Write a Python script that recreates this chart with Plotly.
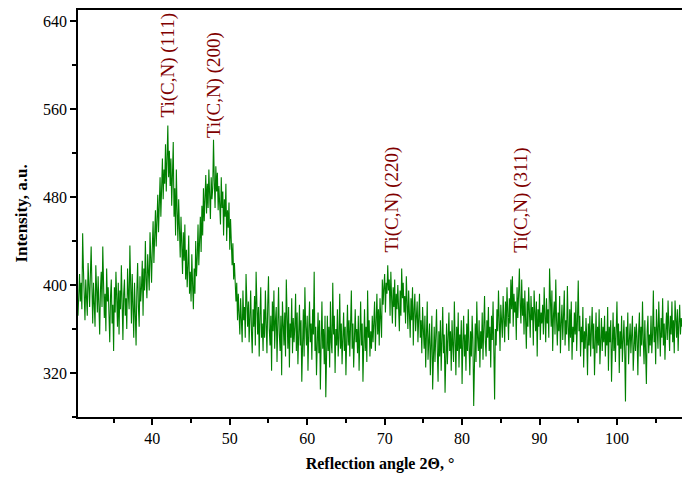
import plotly.graph_objects as go

x_start = 30.4
x_step = 0.1

intensity = [
    372, 398, 410, 385, 402, 378, 447, 415, 392, 368, 405, 388, 372, 420, 395, 380, 410, 435, 398, 365,
    402, 385, 362, 418, 392, 375, 408, 388, 355, 396, 412, 380, 435, 402, 370, 392, 358, 415, 385, 398,
    372, 348, 390, 405, 365, 382, 340, 398, 375, 412, 388, 362, 402, 355, 395, 378, 418, 385, 350, 392,
    405, 372, 388, 360, 415, 392, 378, 436, 398, 365, 410, 385, 352, 402, 375, 345, 395, 420, 380, 362,
    408, 385, 398, 422, 372, 415, 395, 440, 405, 388, 428, 410, 395, 448, 418, 402, 435, 458, 420, 442,
    468, 435, 455, 482, 448, 472, 498, 462, 488, 515, 478, 505, 492, 528, 485, 510, 545, 498, 522, 490,
    515, 472, 498, 530, 462, 488, 445, 505, 468, 440, 478, 452, 425, 462, 438, 410, 448, 422, 455, 405,
    432, 398, 418, 445, 392, 412, 385, 428, 400, 378, 415, 392, 440, 408, 425, 455, 418, 442, 462, 430,
    472, 445, 488, 458, 478, 500, 465, 492, 470, 505, 482, 460, 498, 478, 488, 532, 495, 470, 508, 485,
    502, 468, 490, 475, 455, 498, 470, 485, 445, 478, 462, 492, 440, 468, 452, 475, 432, 460, 445, 418,
    438, 405, 420, 392, 385, 402, 368, 392, 378, 355, 388, 372, 348, 395, 368, 380, 352, 410, 375, 362,
    385, 348, 372, 395, 358, 338, 378, 362, 390, 345, 412, 368, 355, 380, 335, 372, 398, 352, 365, 340,
    378, 352, 395, 365, 338, 382, 408, 360, 345, 372, 322, 385, 358, 395, 342, 368, 380, 330, 362, 398,
    355, 340, 372, 318, 385, 362, 345, 375, 335, 405, 358, 342, 380, 325, 365, 352, 388, 338, 370, 348,
    362, 392, 340, 375, 328, 358, 382, 345, 368, 312, 355, 378, 335, 398, 362, 345, 372, 322, 358, 385,
    348, 365, 332, 378, 355, 412, 340, 362, 318, 350, 375, 338, 368, 305, 352, 385, 342, 360, 328, 372,
    298, 355, 372, 340, 362, 325, 385, 348, 338, 402, 355, 372, 320, 360, 345, 378, 335, 352, 392, 342,
    365, 328, 350, 375, 340, 362, 318, 355, 382, 345, 368, 335, 358, 395, 342, 365, 325, 352, 378, 348,
    360, 338, 372, 322, 355, 385, 345, 365, 312, 350, 378, 340, 362, 330, 395, 352, 368, 335, 358, 342,
    372, 348, 362, 385, 340, 368, 392, 355, 378, 345, 388, 370, 352, 405, 382, 398, 410, 375, 402, 392,
    418, 395, 405, 372, 412, 388, 365, 398, 380, 405, 362, 392, 378, 400, 385, 358, 395, 372, 415, 388,
    402, 375, 390, 365, 408, 382, 360, 395, 372, 352, 388, 368, 398, 345, 378, 392, 358, 372, 385, 348,
    375, 392, 352, 368, 338, 380, 360, 342, 372, 325, 355, 385, 332, 348, 365, 318, 352, 372, 305, 345,
    362, 330, 355, 378, 340, 312, 358, 335, 368, 322, 350, 380, 338, 355, 302, 345, 365, 328, 352, 375,
    340, 358, 322, 368, 345, 330, 385, 352, 318, 362, 340, 375, 325, 355, 342, 368, 310, 348, 372, 335,
    355, 322, 365, 340, 378, 345, 318, 358, 335, 372, 350, 290, 345, 365, 330, 385, 352, 340, 368, 325,
    358, 342, 375, 332, 362, 390, 348, 335, 368, 352, 380, 340, 362, 325, 372, 350, 385, 345, 296, 360,
    345, 378, 358, 395, 365, 340, 382, 368, 352, 390, 372, 348, 385, 362, 398, 375, 350, 388, 365, 405,
    378, 408, 362, 392, 375, 385, 350, 398, 370, 392, 415, 382, 365, 405, 372, 388, 355, 395, 368, 342,
    385, 362, 398, 375, 352, 390, 368, 380, 345, 395, 372, 358, 385, 335, 378, 362, 392, 350, 375, 365,
    382, 355, 398, 372, 348, 388, 365, 378, 352, 415, 380, 362, 395, 340, 372, 385, 355, 405, 368, 345,
    375, 358, 390, 338, 365, 382, 350, 372, 395, 345, 368, 355, 399, 362, 340, 378, 352, 385, 332, 362,
    348, 375, 355, 385, 340, 368, 404, 358, 372, 335, 362, 348, 380, 325, 358, 342, 370, 352, 318, 365,
    345, 372, 335, 358, 380, 342, 365, 318, 352, 375, 338, 362, 345, 378, 328, 355, 370, 340, 362, 348,
    372, 335, 358, 345, 380, 322, 362, 348, 368, 312, 355, 375, 340, 362, 330, 352, 385, 345, 365, 320,
    358, 342, 372, 330, 355, 368, 340, 294, 362, 345, 375, 328, 350, 365, 338, 358, 372, 322, 348, 362,
    340, 365, 352, 318, 358, 375, 335, 362, 345, 385, 350, 328, 368, 342, 310, 358, 372, 338, 355, 345,
    372, 338, 355, 395, 348, 362, 328, 378, 352, 342, 385, 360, 335, 370, 352, 388, 345, 365, 332, 358,
    375, 350, 386, 362, 340, 372, 355, 385, 348, 368, 338, 386, 362, 352, 378, 340, 365, 382, 355, 370,
    362,
]
two_theta = [round(x_start + i * x_step, 2) for i in range(len(intensity))]

peak_labels = ["Ti(C,N) (111)", "Ti(C,N) (200)", "Ti(C,N) (220)", "Ti(C,N) (311)"]
peak_x = [41.9, 48.0, 71.0, 87.6]
peak_y = [550, 532, 428, 428]

fig = go.Figure()
fig.add_trace(go.Scatter(
    x=two_theta, y=intensity, mode="lines",
    line=dict(color="#008000", width=1.1), showlegend=False,
))

for lab, px, py in zip(peak_labels, peak_x, peak_y):
    fig.add_annotation(
        x=px, y=py, xref="x", yref="y", text=lab, showarrow=False,
        textangle=-90, xanchor="center", yanchor="bottom",
        font=dict(family="Liberation Serif", size=19, color="#800000"),
    )

fig.update_layout(
    width=682, height=477,
    margin=dict(l=78, r=0, t=10, b=60),
    plot_bgcolor="white", paper_bgcolor="white",
    font=dict(family="Liberation Serif", size=16, color="black"),
    xaxis=dict(
        range=[30.4, 108.4], tick0=0, dtick=10,
        ticks="outside", ticklen=6, tickwidth=1.5, tickcolor="black",
        minor=dict(ticks="outside", ticklen=4, dtick=5, tickcolor="black", tickwidth=1.5),
        showline=True, linewidth=1.8, linecolor="black", mirror=True,
        showgrid=False, zeroline=False,
        title=dict(text="<b>Reflection angle 2Θ, °</b>", font=dict(size=16), standoff=12),
    ),
    yaxis=dict(
        range=[280, 650], tick0=320, dtick=80,
        ticks="outside", ticklen=6, tickwidth=1.5, tickcolor="black",
        minor=dict(ticks="outside", ticklen=4, dtick=40, tickcolor="black", tickwidth=1.5),
        showline=True, linewidth=1.8, linecolor="black",
        showgrid=False, zeroline=False,
        title=dict(text="<b>Intensity, a.u.</b>", font=dict(size=17), standoff=11),
    ),
)

fig.write_html("out.html")
